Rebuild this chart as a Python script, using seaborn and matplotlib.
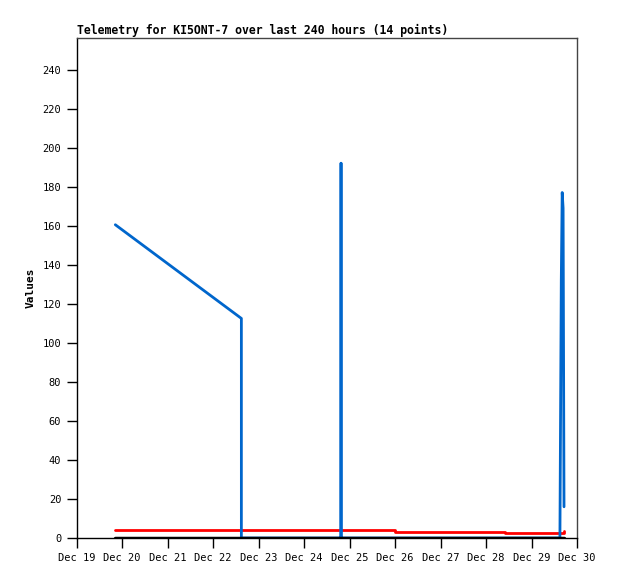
import matplotlib
matplotlib.use("Agg")
import matplotlib.pyplot as plt
import matplotlib.dates as mdates
import seaborn as sns
import pandas as pd

# day offsets from Dec 19 00:00 for the 14 telemetry packets
day_offsets = [0.85, 3.62, 3.62, 5.81, 5.81, 5.81, 6.99, 9.41,
               10.62, 10.63, 10.65, 10.67, 10.69, 10.71]
blue_values = [160.5, 112.5, 0, 0, 192, 0, 0, 0, 0, 44, 132, 177, 169, 16]
red_values = [3.9, 3.9, 3.9, 3.9, 3.9, 3.9, 3.3, 2.6, 2.6, 2.6, 2.6, 2.6, 2.6, 3.7]
black_values = [0] * 14
y_ticks = list(range(0, 241, 20))

start = pd.Timestamp("2024-12-19")
times = [start + pd.Timedelta(days=d) for d in day_offsets]

sns.set_style("white")
plt.rcParams["font.family"] = ["DejaVu Sans Mono"]
plt.rcParams["text.color"] = "black"
plt.rcParams["axes.labelcolor"] = "black"

fig = plt.figure(figsize=(6.18, 5.79), dpi=100)
ax = fig.add_axes([0.124, 0.0708, 0.81, 0.863])

line_kw = dict(estimator=None, sort=False, ax=ax)
sns.lineplot(x=times, y=red_values, color="#ff0000", drawstyle="steps-post", lw=2, **line_kw)
sns.lineplot(x=times, y=blue_values, color="#0066cc", lw=2, **line_kw)
sns.lineplot(x=times, y=black_values, color="black", lw=2.5, **line_kw)

ax.set_xlim(start, start + pd.Timedelta(days=11))
ax.set_ylim(0, 256)
ax.set_yticks(y_ticks)
ax.xaxis.set_major_locator(mdates.DayLocator())
ax.xaxis.set_major_formatter(mdates.DateFormatter("%b %d"))

ax.tick_params(axis="both", direction="out", length=7, width=1, colors="black",
               labelsize=7.5, pad=4, left=True, bottom=True)
for side in ["left", "bottom"]:
    ax.spines[side].set_color("black")
    ax.spines[side].set_linewidth(1)
for side in ["top", "right"]:
    ax.spines[side].set_color("#444444")
    ax.spines[side].set_linewidth(1)

ax.set_ylabel("Values", fontsize=8, fontweight="bold", labelpad=5)
ax.set_xlabel("")
ax.set_title("Telemetry for KI5ONT-7 over last 240 hours (14 points)",
             loc="left", fontsize=8.3, fontweight="bold", pad=3, color="black")

fig.savefig("out.png", dpi=100)
